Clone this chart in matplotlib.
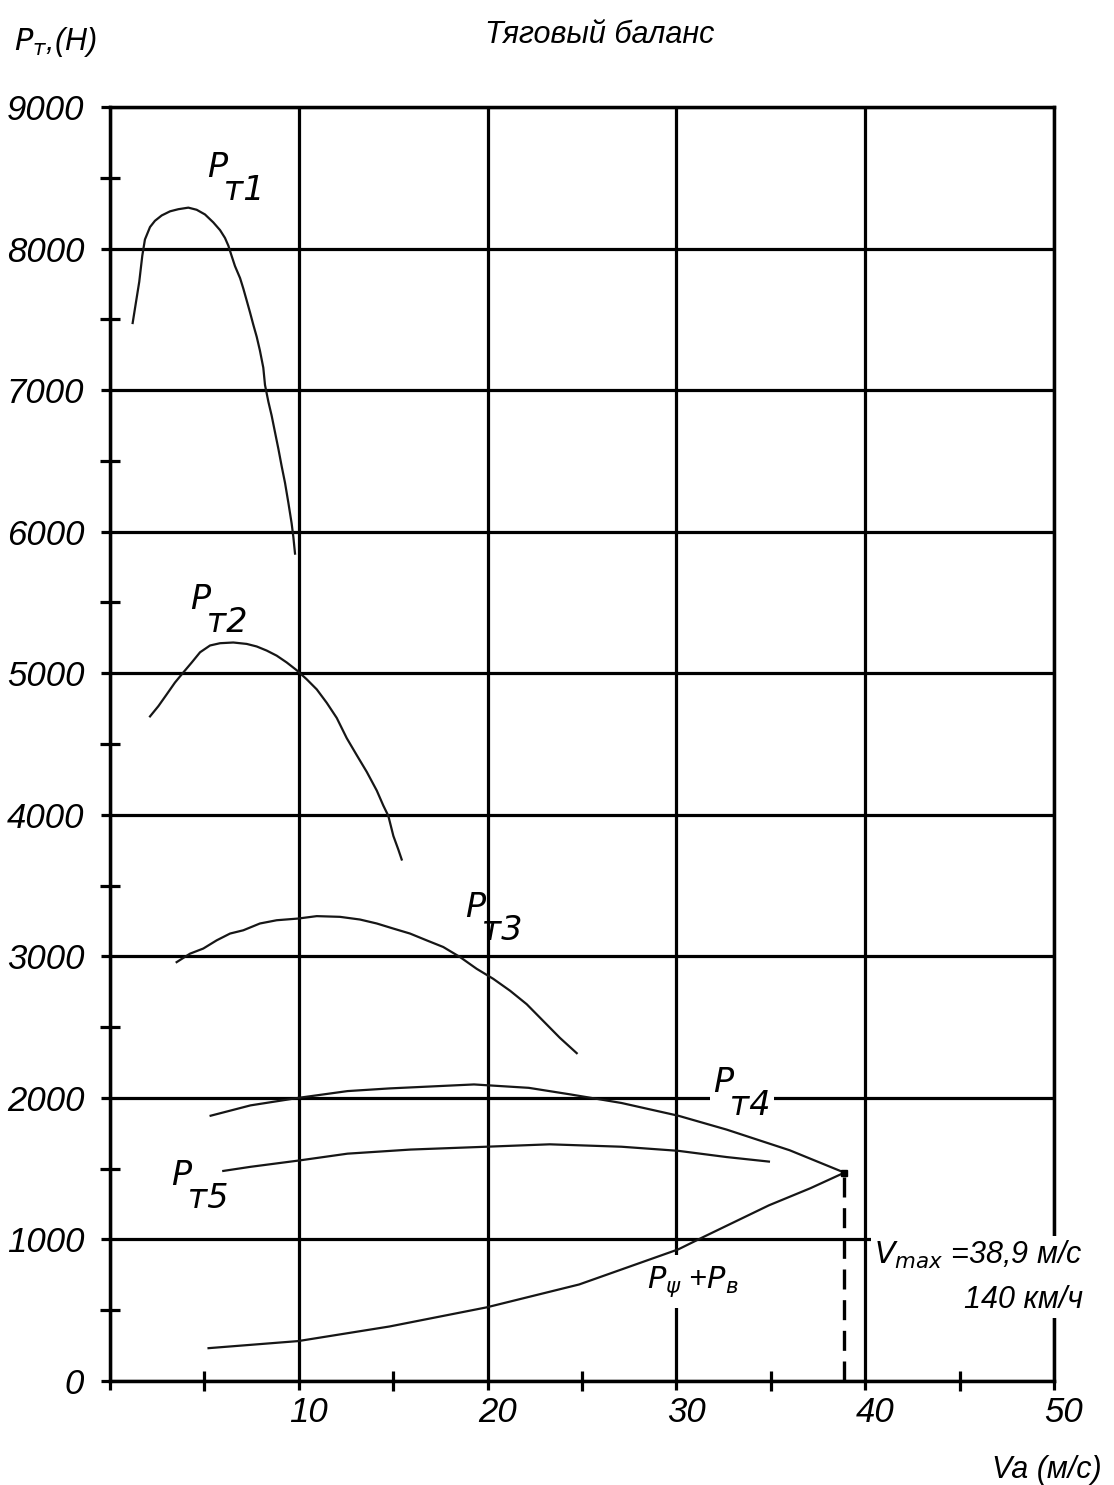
import matplotlib
matplotlib.use('Agg')
import matplotlib.pyplot as plt
import matplotlib.transforms as mtransforms
from matplotlib.ticker import MultipleLocator, FixedLocator

plt.rcParams['font.family'] = ['Liberation Sans', 'DejaVu Sans']
plt.rcParams['font.style'] = 'italic'
plt.rcParams['mathtext.fontset'] = 'custom'
plt.rcParams['mathtext.rm'] = 'DejaVu Sans:italic'
plt.rcParams['mathtext.it'] = 'DejaVu Sans:italic'
plt.rcParams['mathtext.sf'] = 'DejaVu Sans:italic'

# ---------------- data ----------------
pt1_v = [1.20, 1.36, 1.55, 1.71, 1.85, 2.12, 2.38, 2.74, 3.18, 3.62, 4.15, 4.59, 5.03,
         5.47, 5.83, 6.09, 6.27, 6.44, 6.62, 6.89, 7.06, 7.24, 7.42, 7.59, 7.77, 7.94,
         8.12, 8.21, 8.39, 8.56, 8.74, 8.92, 9.09, 9.27, 9.45, 9.62, 9.71, 9.80]
pt1_p = [7474, 7608, 7766, 7949, 8064, 8152, 8196, 8234, 8263, 8278, 8289, 8274, 8241,
         8185, 8130, 8075, 8020, 7949, 7876, 7791, 7718, 7633, 7547, 7462, 7377, 7280,
         7158, 7036, 6917, 6821, 6702, 6584, 6464, 6345, 6202, 6059, 5964, 5845]

pt2_v = [2.12, 2.56, 3.00, 3.44, 3.88, 4.33, 4.77, 5.30, 5.83, 6.53, 7.24, 7.77, 8.30,
         8.83, 9.36, 9.89, 10.42, 10.95, 11.48, 12.01, 12.54, 13.07, 13.60, 14.13,
         14.48, 14.74, 15.01, 15.27, 15.45]
pt2_p = [4695, 4767, 4850, 4934, 5005, 5076, 5148, 5196, 5212, 5217, 5207, 5189, 5160,
         5124, 5076, 5021, 4957, 4886, 4791, 4684, 4541, 4421, 4303, 4171,
         4064, 3993, 3850, 3755, 3684]

pt3_v = [3.53, 4.24, 4.94, 5.65, 6.36, 7.06, 7.94, 8.83, 9.97, 10.95, 12.18, 13.24, 14.13,
         15.01, 15.89, 16.77, 17.65, 18.54, 19.42, 20.30, 21.19, 22.07, 22.95, 23.83, 24.72]
pt3_p = [2959, 3019, 3055, 3113, 3161, 3184, 3232, 3255, 3267, 3284, 3279, 3260, 3232,
         3196, 3161, 3113, 3066, 2995, 2912, 2841, 2757, 2662, 2543, 2424, 2316]

pt4_v = [5.33, 7.44, 9.97, 12.58, 14.81, 19.28, 22.18, 24.41, 27.09, 30.1, 32.66, 36.0, 38.9]
pt4_p = [1874, 1947, 2000, 2048, 2067, 2095, 2071, 2024, 1964, 1874, 1776, 1630, 1472]

pt5_v = [6.0, 7.44, 9.97, 12.58, 15.92, 19.94, 23.29, 27.09, 30.1, 32.66, 34.9]
pt5_p = [1484, 1513, 1557, 1606, 1635, 1655, 1672, 1655, 1626, 1582, 1550]

res_v = [5.22, 9.97, 14.8, 19.94, 24.85, 30.1, 31.5, 34.9, 37.1, 38.9]
res_p = [232, 282, 385, 520, 682, 930, 1022, 1241, 1362, 1472]

v_max = 38.9
p_at_vmax = 1472

x_ticks = [0, 10, 20, 30, 40, 50]
x_tick_labels = ['', '10', '20', '30', '40', '50']
y_ticks = [0, 1000, 2000, 3000, 4000, 5000, 6000, 7000, 8000, 9000]
y_tick_labels = ['0', '1000', '2000', '3000', '4000', '5000', '6000', '7000', '8000', '9000']

title = 'Тяговый баланс'
x_label = 'Va (м/с)'
y_label = '$P_{т}$,(Н)'
curve_labels = ['т1', 'т2', 'т3', 'т4', 'т5']
res_label = '$P_{ψ}$ +$P_{в}$'
vmax_label = '$V_{max}$ =38,9 м/с\n140 км/ч'

# ---------------- figure ----------------
W, H = 1114, 1485
fig = plt.figure(figsize=(W / 100, H / 100), dpi=100)
ax = fig.add_axes([110 / W, 1 - 1381 / H, (1054 - 110) / W, (1381 - 107) / H])
ax.set_xlim(0, 50)
ax.set_ylim(0, 9000)

ax.xaxis.set_major_locator(FixedLocator(x_ticks))
ax.yaxis.set_major_locator(FixedLocator(y_ticks))
ax.set_xticklabels(x_tick_labels)
ax.set_yticklabels(y_tick_labels)
ax.xaxis.set_minor_locator(MultipleLocator(5))
ax.yaxis.set_minor_locator(MultipleLocator(500))

ax.set_axisbelow(True)
ax.grid(True, which='major', color='black', lw=2.3)
for s in ax.spines.values():
    s.set_linewidth(2.5)
    s.set_color('black')

ax.tick_params(which='major', direction='out', length=6.5, width=2.3,
               labelsize=25, colors='black')
ax.tick_params(axis='y', which='major', pad=12)
ax.tick_params(axis='x', which='major', pad=4)
ax.tick_params(which='minor', direction='inout', length=14, width=2.3)

shift = mtransforms.ScaledTranslation(0.10, 0, fig.dpi_scale_trans)
for lab in ax.get_xticklabels():
    lab.set_transform(lab.get_transform() + shift)

# curves
curve_kw = dict(color='#161616', lw=1.6, zorder=6, solid_joinstyle='round')
for vv, pp in [(pt1_v, pt1_p), (pt2_v, pt2_p), (pt3_v, pt3_p),
               (pt4_v, pt4_p), (pt5_v, pt5_p), (res_v, res_p)]:
    ax.plot(vv, pp, **curve_kw)

ax.vlines(v_max, 0, p_at_vmax, colors='black', lw=2.4,
          linestyles=(0, (6, 3.2)), zorder=6)
ax.plot([v_max], [p_at_vmax], 's', ms=4.5, color='black', zorder=7)

# curve labels: "P" with a full-size index set lower-right
def curve_label(x, y, sub, box=False):
    kw = dict(fontsize=24, ha='left', va='baseline', linespacing=0.6,
              zorder=5, color='black', family='DejaVu Sans', style='oblique')
    if box:
        kw['bbox'] = dict(facecolor='white', edgecolor='none', boxstyle='square,pad=0.1')
    ax.text(x, y, 'P\n\u2002' + sub, **kw)

curve_label(5.14, 8343, curve_labels[0])
curve_label(4.24, 5291, curve_labels[1])
curve_label(18.8, 3115, curve_labels[2])
curve_label(31.94, 1879, curve_labels[3], box=True)
curve_label(3.23, 1222, curve_labels[4])

ax.text(28.45, 660, res_label, fontsize=22, ha='left', va='baseline', zorder=5,
        bbox=dict(facecolor='white', edgecolor='none', boxstyle='square,pad=0.3'))

fig.text(874 / W, 1 - 1308 / H, vmax_label, fontsize=22, ha='left', va='baseline',
         multialignment='right', linespacing=1.6,
         bbox=dict(facecolor='white', edgecolor='none', boxstyle='square,pad=0.1'))

fig.text(600 / W, 1 - 43 / H, title, fontsize=22, ha='center', va='baseline')
fig.text(14 / W, 1 - 50 / H, y_label, fontsize=22, ha='left', va='baseline')
fig.text(992 / W, 1 - 1478 / H, x_label, fontsize=22, ha='left', va='baseline')

fig.savefig('out.png', dpi=100)
